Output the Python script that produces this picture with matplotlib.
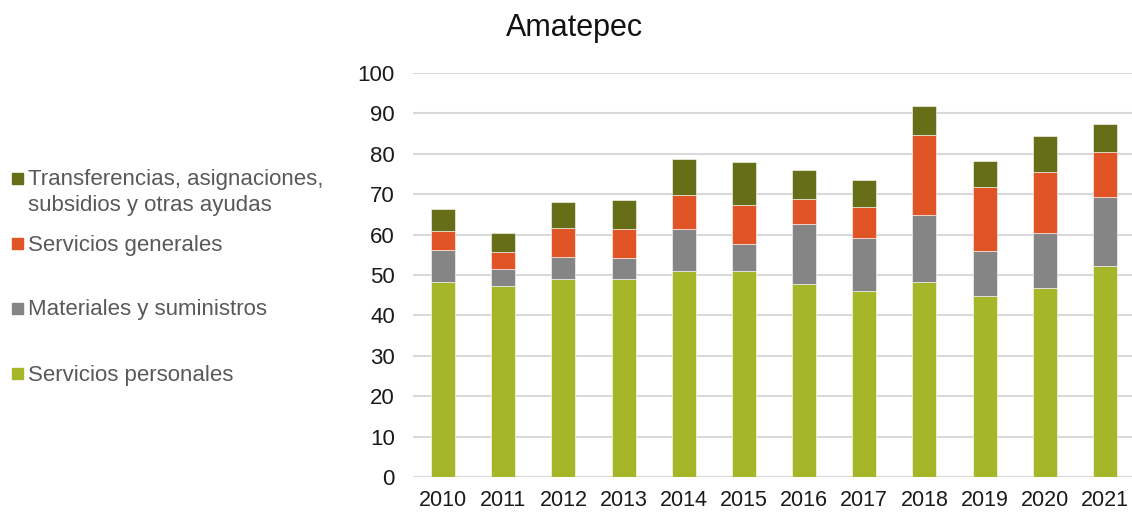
import matplotlib.pyplot as plt
import matplotlib.patches as mpatches
import numpy as np

# Datos (Amatepec)
anios = ["2010", "2011", "2012", "2013", "2014", "2015",
         "2016", "2017", "2018", "2019", "2020", "2021"]
servicios_personales = [48.3, 47.4, 48.9, 49.1, 51.0, 51.0, 47.7, 46.1, 48.3, 44.9, 46.8, 52.3]
materiales = [7.8, 4.0, 5.6, 5.1, 10.3, 6.7, 15.0, 13.1, 16.6, 11.1, 13.6, 16.9]
servicios_generales = [4.7, 4.2, 7.2, 7.1, 8.5, 9.7, 6.1, 7.7, 19.8, 15.7, 15.1, 11.3]
transferencias = [5.6, 4.8, 6.4, 7.3, 9.0, 10.6, 7.1, 6.6, 7.2, 6.5, 8.9, 6.8]

series = [
    ("Servicios personales", servicios_personales, "#A5B729"),
    ("Materiales y suministros", materiales, "#858585"),
    ("Servicios generales", servicios_generales, "#E05426"),
    ("Transferencias, asignaciones,\nsubsidios y otras ayudas", transferencias, "#666E17"),
]

plt.rcParams["font.family"] = ["Liberation Sans", "DejaVu Sans"]

fig = plt.figure(figsize=(11.32, 5.12), dpi=100)
ax = fig.add_axes([413 / 1132, 35 / 512, 1 - 413 / 1132, 404 / 512])

x = np.arange(len(anios))
base = np.zeros(len(anios))
for nombre, valores, color in series:
    ax.bar(x, valores, bottom=base, width=0.4, color=color,
           edgecolor="white", linewidth=0.4, zorder=3)
    base += np.array(valores)

ax.set_ylim(0, 100)
ax.set_xlim(-0.5, 11.45)
ax.set_yticks(range(0, 101, 10))
ax.set_xticks(x)
ax.set_xticklabels(anios)
ax.grid(axis="y", color="#D9D9D9", linewidth=1.5, zorder=0)
for s in ax.spines.values():
    s.set_visible(False)
ax.tick_params(axis="y", length=0, pad=13, labelsize=16, labelcolor="#1a1a1a")
ax.tick_params(axis="x", length=0, pad=9, labelsize=15.5, labelcolor="#1a1a1a")

fig.text(574 / 1132, 1 - 28 / 512, "Amatepec", fontsize=22,
         ha="center", va="center", color="#111111")

# Leyenda manual a la izquierda
leyenda_y = [178, 243, 308, 373]
orden = [series[3], series[2], series[1], series[0]]
for (nombre, _, color), yp in zip(orden, leyenda_y):
    fig.patches.append(mpatches.Rectangle(
        (12 / 1132, 1 - (yp + 5.5) / 512), 11 / 1132, 11 / 512,
        transform=fig.transFigure, color=color, figure=fig))
    fig.text(28 / 1132, 1 - (yp + 7.5) / 512, nombre.split("\n")[0], fontsize=16,
             ha="left", va="baseline", color="#595959")
    if "\n" in nombre:
        fig.text(28 / 1132, 1 - (yp + 32.5) / 512, nombre.split("\n")[1], fontsize=16,
                 ha="left", va="baseline", color="#595959")

plt.savefig("out.png", dpi=100)
